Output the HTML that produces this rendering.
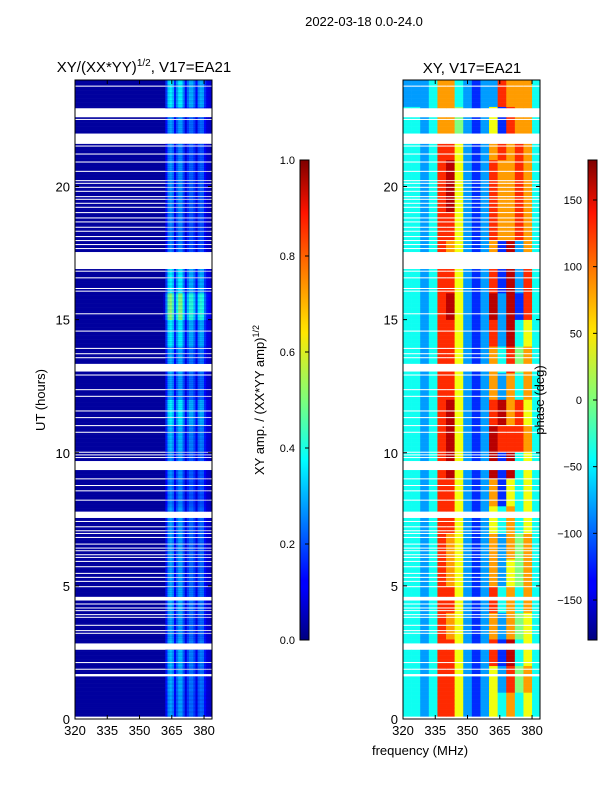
<!DOCTYPE html>
<html><head><meta charset="utf-8"><style>
html,body{margin:0;padding:0;background:#fff;}
svg{display:block;font-family:"Liberation Sans","DejaVu Sans",sans-serif;}
</style></head><body>
<svg id="fig" width="600" height="800" viewBox="0 0 600 800">
<defs>
<linearGradient id="jet" x1="0" y1="1" x2="0" y2="0">
<stop offset="0" stop-color="#00007f"/><stop offset="0.11" stop-color="#0000ff"/><stop offset="0.125" stop-color="#0000ff"/>
<stop offset="0.34" stop-color="#00dcff"/><stop offset="0.375" stop-color="#00ffff"/><stop offset="0.5" stop-color="#7dff7a"/>
<stop offset="0.64" stop-color="#ffe600"/><stop offset="0.66" stop-color="#ffd800"/><stop offset="0.89" stop-color="#ff1300"/><stop offset="1" stop-color="#7f0000"/>
</linearGradient>
</defs>
<text x="364" y="26" font-size="13" text-anchor="middle">2022-03-18 0.0-24.0</text>
<text x="144" y="72" font-size="15" text-anchor="middle">XY/(XX*YY)<tspan font-size="10" dy="-6">1/2</tspan><tspan dy="6">, V17=EA21</tspan></text>
<text x="472" y="73" font-size="15" text-anchor="middle">XY, V17=EA21</text>
<g id="ampPanel"></g>
<g id="phasePanel"></g>
<g id="axes"></g>
<rect x="300" y="160" width="9" height="480" fill="url(#jet)" stroke="#000" stroke-width="1"/>
<rect x="588" y="160" width="9" height="480" fill="url(#jet)" stroke="#000" stroke-width="1"/>
<g id="cbars"></g>
<text transform="translate(264,400) rotate(-90)" font-size="13" text-anchor="middle">XY amp. / (XX*YY amp)<tspan font-size="9" dy="-5">1/2</tspan></text>
<text transform="translate(544,400) rotate(-90)" font-size="13" text-anchor="middle">phase (deg)</text>
<text transform="translate(45,400) rotate(-90)" font-size="13" text-anchor="middle">UT (hours)</text>
<text x="420" y="755" font-size="13" text-anchor="middle">frequency (MHz)</text>
</svg>
<script>
// ---- data ----
const freqTicks = [320, 335, 350, 365, 380];
const hourTicks = [0, 5, 10, 15, 20];
const ampTicks = [0.0, 0.2, 0.4, 0.6, 0.8, 1.0];
const phaseTicks = [-150, -100, -50, 0, 50, 100, 150];
// amplitude profile per 1 MHz channel starting at 320 MHz
const ampProfile = [0.03,0.03,0.03,0.03,0.03,0.03,0.03,0.03,0.03,0.03,0.03,0.03,0.03,0.03,0.03,0.03,
0.03,0.03,0.03,0.03,0.03,0.03,0.03,0.03,0.03,0.03,0.03,0.03,0.03,0.03,0.03,0.03,
0.03,0.03,0.03,0.03,0.03,0.03,0.03,0.03,0.03,0.04,0.14,0.26,0.29,0.25,0.12,0.22,
0.28,0.28,0.2,0.1,0.18,0.23,0.23,0.18,0.1,0.2,0.23,0.22,0.13,0.08,0.07,0.06];
// amplitude scaling per hour (0..23)
const ampHour = [1.0,1.05,1.1,1.0,1.05,1.0,1.0,1.0,0.9,0.95,1.1,1.3,1.0,1.05,1.3,1.8,1.3,0.9,0.9,0.95,0.95,0.9,1.0,1.3];
// phase per hour (rows 0..23) per 4 MHz bin, digit d -> -180 + 40*d + 20
const phaseRows = [
"3323775212536353","3323775212527463","3323775212718353","3323765212626453",
"3323775212736363","3323765212625463","3323765212626463","3323775212536353",
"3323775212615353","3323785212818353","3323785212877763","3323785212786753",
"3323775212626363","3323775212637463","3323775212728353","3323785212828173",
"3323775212718273","3323765212618263","3323775212766763","3323785212766763",
"3323785212766763","3323775212676763","3323664212517663","2223663212276663"];
// blank (flagged) time intervals, hours
const gaps = [[0.0,0.08],[1.62,1.68],[1.83,1.89],[2.08,2.14],[2.62,2.86],[3.18,3.24],[3.28,3.34],[3.48,3.54],
[3.78,3.84],[3.9,3.96],[4.04,4.1],[4.14,4.2],[4.28,4.34],[4.45,4.62],[4.93,4.99],[5.13,5.19],[5.28,5.34],[5.43,5.49],
[5.68,5.74],[5.88,5.94],[6.03,6.09],[6.13,6.19],[6.28,6.34],[6.38,6.44],[6.53,6.59],[6.78,6.84],[6.93,6.99],[7.03,7.09],
[7.18,7.24],[7.38,7.44],[7.55,7.8],[8.18,8.24],[8.53,8.59],[8.73,8.79],[8.98,9.04],[9.37,9.7],[9.78,9.84],[9.88,9.94],
[9.98,10.04],[10.73,10.79],[10.98,11.04],[11.28,11.34],[11.53,11.59],[12.08,12.14],[12.33,12.39],[12.88,12.94],[13.05,13.35],
[13.53,13.59],[13.68,13.74],[13.88,13.94],[14.53,14.59],[15.18,15.24],[16.03,16.09],[16.13,16.19],[16.53,16.59],[16.78,16.84],
[16.9,17.55],[17.63,17.69],[17.78,17.84],[17.93,17.99],[18.08,18.14],[18.28,18.34],[18.43,18.49],[18.63,18.69],[18.78,18.84],
[18.98,19.04],[19.18,19.24],[19.33,19.39],[19.48,19.54],[19.58,19.64],[19.78,19.84],[19.93,19.99],[20.08,20.14],[20.18,20.24],
[20.53,20.59],[20.88,20.94],[21.18,21.24],[21.48,21.54],[21.6,22.0],[22.48,22.54],[22.6,22.95],[23.73,23.79]];

// ---- axes ----
const NS = "http://www.w3.org/2000/svg";
const H0 = 719, H1 = 80, F0 = 320, F1 = 383.7;
function yH(h){ return H0 - (h/24)*(H0-H1); }
function xF(f, left){ return left + (f-F0)/(F1-F0)*137; }
function jet(v){
  v = Math.max(0, Math.min(1, v));
  const r = Math.max(0, Math.min(1, 1.5 - Math.abs(4*v-3)));
  const g = Math.max(0, Math.min(1, 1.5 - Math.abs(4*v-2)));
  const b = Math.max(0, Math.min(1, 1.5 - Math.abs(4*v-1)));
  return "rgb(" + Math.round(r*255) + "," + Math.round(g*255) + "," + Math.round(b*255) + ")";
}
function mk(tag, attrs, parent){
  const el = document.createElementNS(NS, tag);
  for (const k in attrs) el.setAttribute(k, attrs[k]);
  parent.appendChild(el); return el;
}
function isGap(h){ return gaps.some(g => h >= g[0] && h < g[1]); }

const amp = document.getElementById("ampPanel");
const ph = document.getElementById("phasePanel");
const step = 0.05;
for (let i = 0; i < 24/step; i++) {
  const h = i*step + step/2;
  if (isGap(h)) continue;
  const hr = Math.min(23, Math.floor(h));
  const y = yH(i*step+step), hh = yH(i*step) - y + 0.3;
  const bg = mk("rect", {x: 75, y: y, width: 137, height: hh, fill: jet(0.03)}, amp);
  
  
  for (let c = 0; c < ampProfile.length; c++) {
    const v = ampProfile[c]*ampHour[hr];
    if (v < 0.06) continue;
    const x0 = xF(F0+c, 75), x1 = xF(Math.min(F1, F0+c+1), 75);
    const r = mk("rect", {x: x0, y: y, width: x1-x0+0.3, height: hh, fill: jet(v)}, amp);
    
    
  }
  const row = phaseRows[hr];
  for (let b = 0; b < row.length; b++) {
    const d = parseInt(row[b], 10);
    const deg = -180 + 40*d + 20;
    const x0 = xF(F0+4*b, 403), x1 = xF(Math.min(F1, F0+4*b+4), 403);
    const r = mk("rect", {x: x0, y: y, width: x1-x0+0.3, height: hh, fill: jet((deg+180)/360)}, ph);
    
    
  }
}

const ax = document.getElementById("axes");
[75, 403].forEach(left => {
  const fr = mk("rect", {x: left, y: H1, width: 137, height: H0-H1, fill: "none", stroke: "#000", "stroke-width": 1}, ax);
  
  
  freqTicks.forEach(f => {
    const x = xF(f, left);
    mk("line", {x1: x, x2: x, y1: H0, y2: H0-4, stroke: "#000"}, ax);
    mk("line", {x1: x, x2: x, y1: H1, y2: H1+4, stroke: "#000"}, ax);
    const t = mk("text", {x: x, y: H0+16, "font-size": 13, "text-anchor": "middle"}, ax);
    t.textContent = f;
    
    
  });
  hourTicks.forEach(hv => {
    const y = yH(hv);
    mk("line", {x1: left, x2: left+4, y1: y, y2: y, stroke: "#000"}, ax);
    mk("line", {x1: left+137, x2: left+133, y1: y, y2: y, stroke: "#000"}, ax);
    const t = mk("text", {x: left-5, y: y+5, "font-size": 13, "text-anchor": "end"}, ax);
    t.textContent = hv;
    
    
  });
});

const cb = document.getElementById("cbars");
ampTicks.forEach(v => {
  const y = 640 - v*480;
  mk("line", {x1: 309, x2: 305, y1: y, y2: y, stroke: "#000"}, cb);
  const t = mk("text", {x: 295, y: y+4, "font-size": 11, "text-anchor": "end"}, cb);
  t.textContent = v.toFixed(1);
  
  
});
phaseTicks.forEach(v => {
  const y = 640 - (v+180)/360*480;
  mk("line", {x1: 597, x2: 593, y1: y, y2: y, stroke: "#000"}, cb);
  const t = mk("text", {x: 582, y: y+4, "font-size": 11, "text-anchor": "end"}, cb);
  t.textContent = v < 0 ? "\u2212" + Math.abs(v) : v;
  
  
});
</script>
</body></html>
